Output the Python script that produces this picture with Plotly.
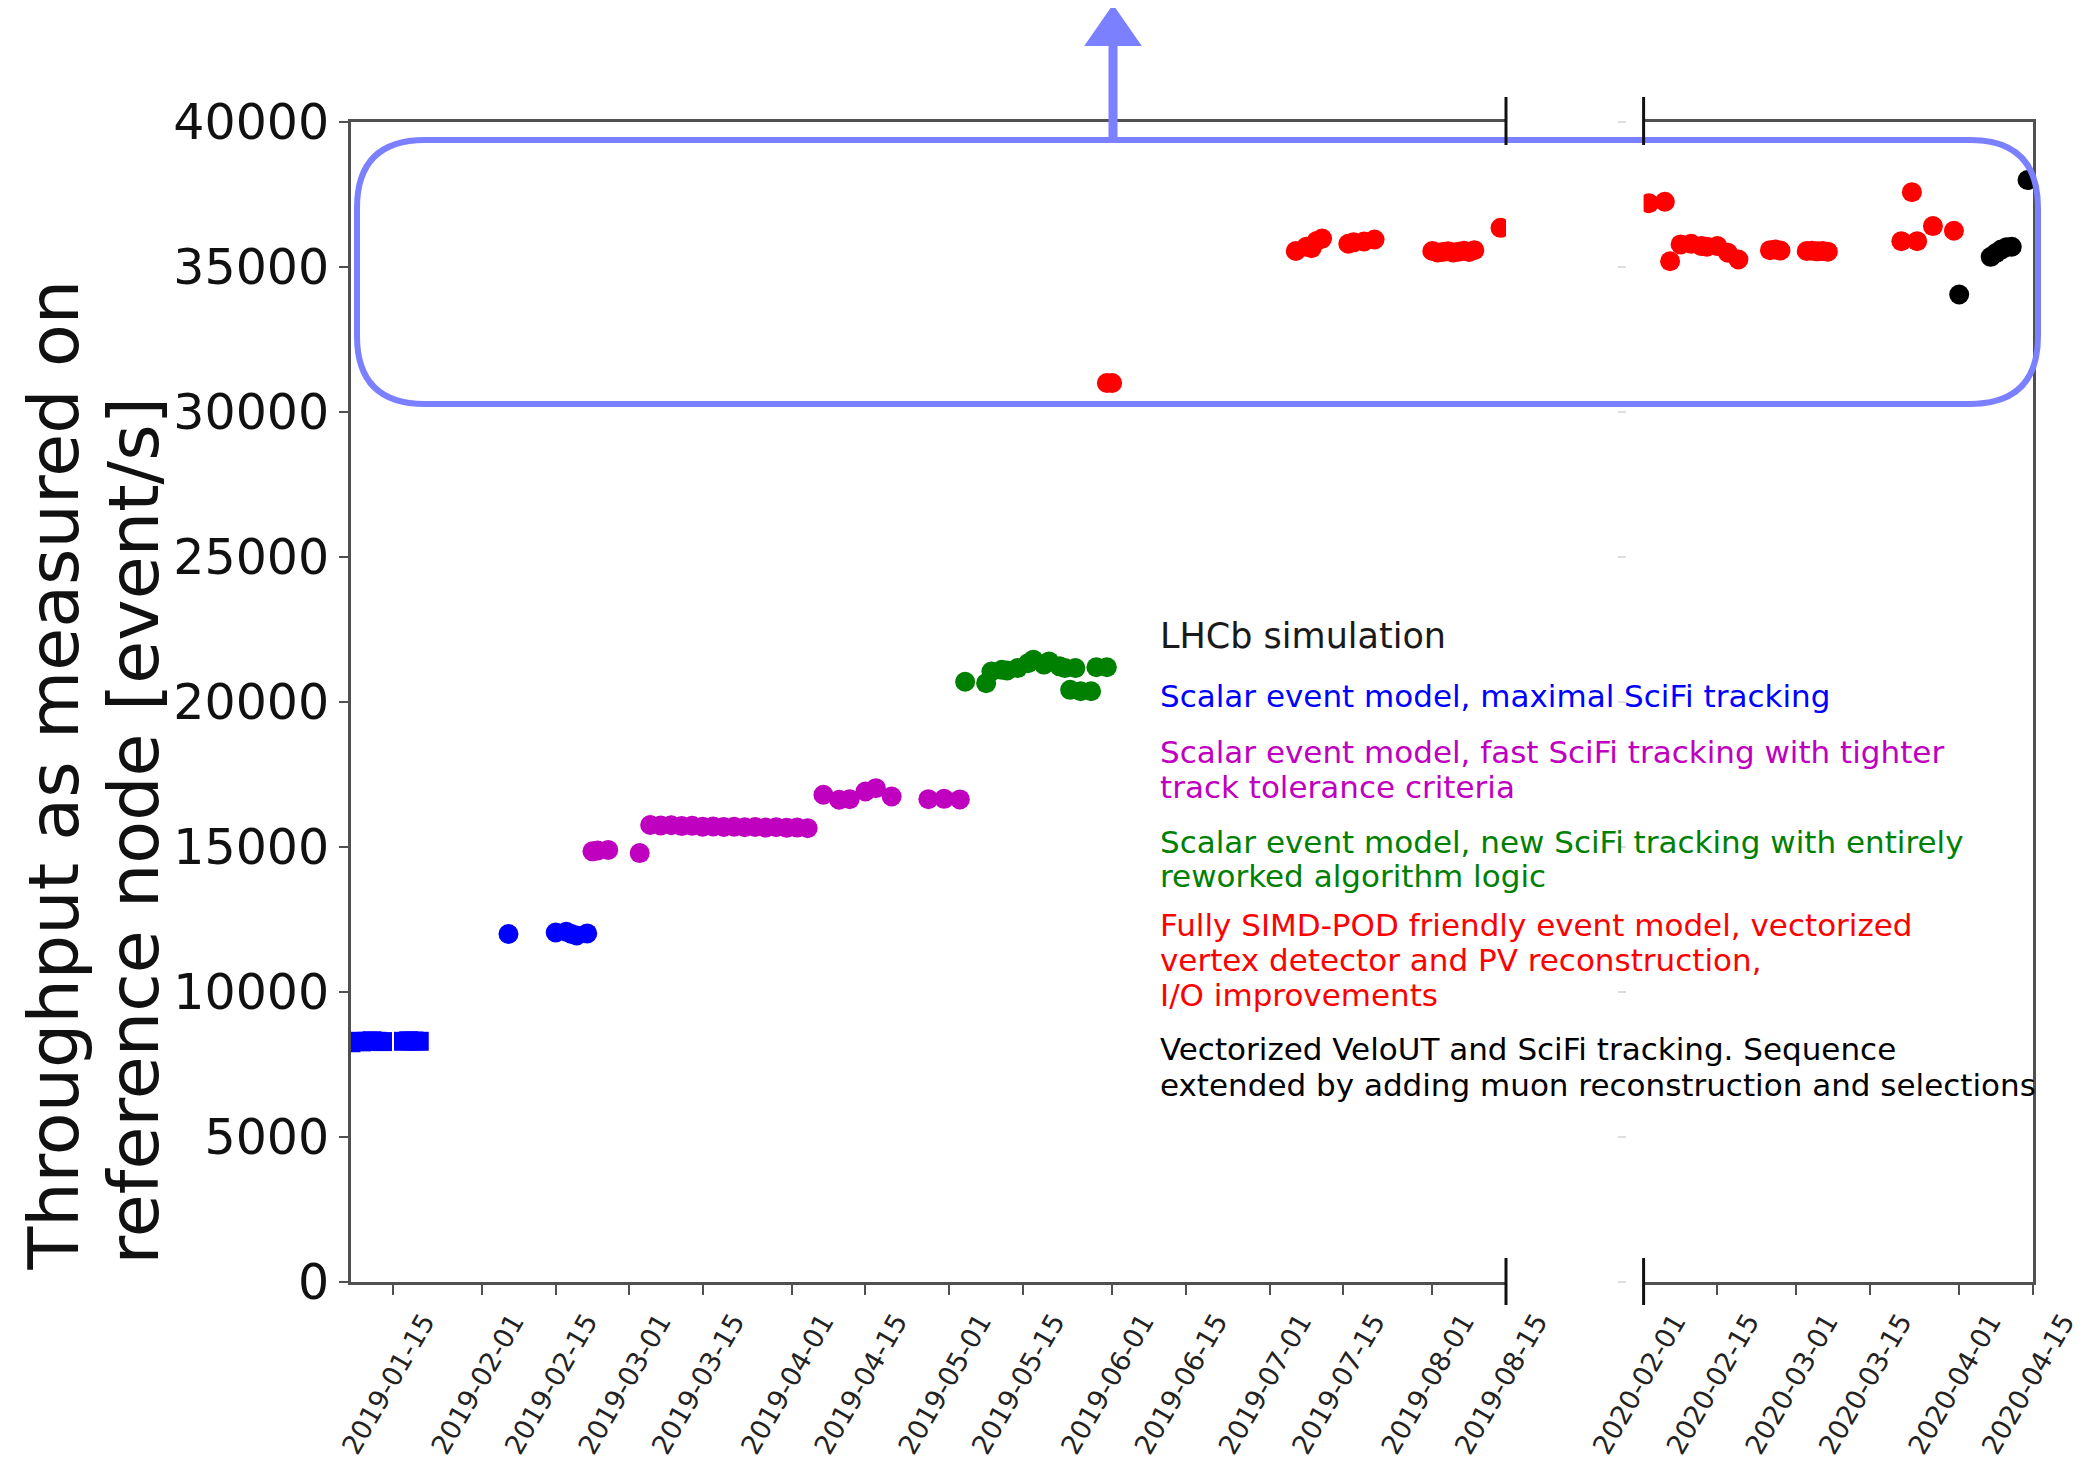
import plotly.graph_objects as go

# The page body has an 8px margin, so the figure is drawn 8px smaller and every
# pixel position below is given in window coordinates, then shifted by OFF.
OFF = 8
WIN_W, WIN_H = 2088, 1464
W, H = WIN_W - OFF, WIN_H - OFF
TOP_PX, BOT_PX = 122, 1282          # window y pixel of 40000 and of 0

# ---------------- data ----------------
blue_sq_dates = ['2019-01-07', '2019-01-08', '2019-01-09', '2019-01-10', '2019-01-11',
                 '2019-01-12', '2019-01-13', '2019-01-17', '2019-01-18', '2019-01-19',
                 '2019-01-20']
blue_sq_vals = [8250, 8300, 8280, 8300, 8320, 8300, 8290, 8300, 8320, 8310, 8300]

blue_dates = ['2019-02-06', '2019-02-15', '2019-02-17', '2019-02-18', '2019-02-19', '2019-02-21']
blue_vals = [12000, 12050, 12080, 12000, 11950, 12020]

magenta_dates = ['2019-02-22', '2019-02-23', '2019-02-25', '2019-03-03',
                 '2019-03-05', '2019-03-07', '2019-03-09', '2019-03-11', '2019-03-13',
                 '2019-03-15', '2019-03-17', '2019-03-19', '2019-03-21', '2019-03-23',
                 '2019-03-25', '2019-03-27', '2019-03-29', '2019-03-31', '2019-04-02',
                 '2019-04-04',
                 '2019-04-07', '2019-04-10', '2019-04-12', '2019-04-15', '2019-04-17',
                 '2019-04-20', '2019-04-27', '2019-04-30', '2019-05-03']
magenta_vals = [14850, 14880, 14900, 14790,
                15760, 15740, 15750, 15720, 15730, 15700, 15710, 15690, 15700, 15680,
                15690, 15670, 15680, 15660, 15670, 15650,
                16800, 16630, 16650, 16915, 17030, 16740, 16650, 16660, 16640]

green_dates = ['2019-05-04', '2019-05-08', '2019-05-09', '2019-05-11', '2019-05-12',
               '2019-05-14', '2019-05-16', '2019-05-17', '2019-05-19', '2019-05-20',
               '2019-05-22', '2019-05-23', '2019-05-25', '2019-05-24', '2019-05-26',
               '2019-05-28', '2019-05-29', '2019-05-31']
green_vals = [20700, 20650, 21050, 21110, 21090, 21170, 21340, 21460, 21290, 21400,
              21230, 21170, 21170, 20420, 20370, 20370, 21200, 21200]

red_dates_2019 = ['2019-05-31', '2019-06-01', '2019-07-06', '2019-07-08', '2019-07-09',
                  '2019-07-10', '2019-07-11', '2019-07-16', '2019-07-17', '2019-07-19',
                  '2019-07-21', '2019-08-01', '2019-08-02', '2019-08-03', '2019-08-04',
                  '2019-08-05', '2019-08-06', '2019-08-07', '2019-08-08', '2019-08-09',
                  '2019-08-14']
red_vals_2019 = [31000, 31000, 35550, 35700, 35650, 35900, 35980, 35800, 35850, 35880,
                 35950, 35550, 35500, 35520, 35540, 35500, 35530, 35560, 35520, 35580,
                 36350]

red_dates_2020 = ['2020-02-02', '2020-02-05', '2020-02-06', '2020-02-08', '2020-02-10',
                  '2020-02-12', '2020-02-13', '2020-02-15', '2020-02-17', '2020-02-19',
                  '2020-02-25', '2020-02-26', '2020-02-27', '2020-03-03', '2020-03-04',
                  '2020-03-05', '2020-03-06', '2020-03-07', '2020-03-21', '2020-03-23',
                  '2020-03-24', '2020-03-27', '2020-03-31']
red_vals_2020 = [37200, 37250, 35200, 35780, 35800, 35720, 35700, 35720, 35490, 35260,
                 35580, 35600, 35570, 35550, 35560, 35540, 35550, 35530, 35890, 37580,
                 35890, 36410, 36250]

black_dates = ['2020-04-01', '2020-04-07', '2020-04-08', '2020-04-09', '2020-04-10',
               '2020-04-11', '2020-04-14']
black_vals = [34050, 35350, 35480, 35600, 35680, 35700, 38000]

y_ticks = [0, 5000, 10000, 15000, 20000, 25000, 30000, 35000, 40000]
x1_ticks = ['2019-01-15', '2019-02-01', '2019-02-15', '2019-03-01', '2019-03-15',
            '2019-04-01', '2019-04-15', '2019-05-01', '2019-05-15', '2019-06-01',
            '2019-06-15', '2019-07-01', '2019-07-15', '2019-08-01', '2019-08-15']
x2_ticks = ['2020-02-01', '2020-02-15', '2020-03-01', '2020-03-15', '2020-04-01',
            '2020-04-15']

legend_lines = [
    ("LHCb simulation", "#1a1a1a", 35),
    ("Scalar event model, maximal SciFi tracking", "#0000ff", 31),
    ("Scalar event model, fast SciFi tracking with tighter", "#bf00bf", 31),
    ("track tolerance criteria", "#bf00bf", 31),
    ("Scalar event model, new SciFi tracking with entirely", "#008000", 31),
    ("reworked algorithm logic", "#008000", 31),
    ("Fully SIMD-POD friendly event model, vectorized", "#ff0000", 31),
    ("vertex detector and PV reconstruction,", "#ff0000", 31),
    ("I/O improvements", "#ff0000", 31),
    ("Vectorized VeloUT and SciFi tracking. Sequence", "#000000", 31),
    ("extended by adding muon reconstruction and selections", "#000000", 31),
]
legend_y_px = [636, 696, 752, 787, 842, 876, 925, 960, 995, 1049, 1085]

# ---------------- helpers ----------------
def px_x(x):
    return (x - OFF) / W

def px_y(y):
    return (BOT_PX - y) / (BOT_PX - TOP_PX)

FONT = "DejaVu Sans"
AX = "#505050"
HL = "rgb(122,128,255)"
MS = 20

fig = go.Figure()

def add(dates, vals, color, xa, ya, symbol='circle', size=MS):
    fig.add_trace(go.Scatter(x=dates, y=vals, mode='markers', xaxis=xa, yaxis=ya,
                             marker=dict(symbol=symbol, size=size, color=color,
                                         line=dict(width=0)),
                             showlegend=False, hoverinfo='x+y'))

add(blue_sq_dates, blue_sq_vals, '#0000ff', 'x', 'y', symbol='square', size=19)
add(blue_dates, blue_vals, '#0000ff', 'x', 'y')
add(magenta_dates, magenta_vals, '#bf00bf', 'x', 'y')
add(green_dates, green_vals, '#008000', 'x', 'y')
add(red_dates_2019, red_vals_2019, '#ff0000', 'x', 'y')
add(red_dates_2020, red_vals_2020, '#ff0000', 'x2', 'y2')
add(black_dates, black_vals, '#000000', 'x2', 'y2')

common_x = dict(type='date', showline=True, mirror=True, linecolor=AX, linewidth=3,
                ticks='outside', ticklen=10, tickwidth=2, tickcolor=AX,
                tickangle=-60, tickfont=dict(family=FONT, size=27, color='#222'),
                ticklabelshift=31, ticklabelstandoff=0, ticklabeloverflow='allow',
                showgrid=False, zeroline=False)

fig.update_layout(
    width=W, height=H,
    paper_bgcolor='white', plot_bgcolor='white',
    margin=dict(l=0, r=0, t=TOP_PX - OFF, b=WIN_H - BOT_PX, pad=0, autoexpand=False),
    showlegend=False,
    xaxis=dict(domain=[px_x(351), px_x(1506)], anchor='y',
               range=['2019-01-07', '2019-08-15 01:00'],
               tickvals=x1_ticks, ticktext=x1_ticks, **common_x),
    xaxis2=dict(domain=[px_x(1643.6), px_x(2033)], anchor='y2',
                range=['2020-01-31 23:00', '2020-04-15 01:00'],
                tickvals=x2_ticks, ticktext=x2_ticks, **common_x),
    yaxis=dict(domain=[0, 1], anchor='x', range=[0, 40000],
               tickvals=y_ticks, ticktext=[str(v) for v in y_ticks],
               showline=True, linecolor=AX, linewidth=3,
               ticks='outside', ticklen=9, tickwidth=2, tickcolor=AX,
               tickfont=dict(family=FONT, size=49, color='#111'),
               showgrid=False, zeroline=False),
    yaxis2=dict(domain=[0, 1], anchor='x2', side='right', range=[0, 40000],
                showline=True, linecolor=AX, linewidth=3, ticks='',
                showticklabels=False, showgrid=False, zeroline=False),
    yaxis3=dict(overlaying='y', anchor='free', position=px_x(1626), range=[0, 40000],
                tickvals=y_ticks, showticklabels=False, showline=False,
                ticks='outside', ticklen=8, tickwidth=2, tickcolor='#dddddd',
                showgrid=False, zeroline=False),
)

# invisible trace so the faint gap axis is drawn
fig.add_trace(go.Scatter(x=[None], y=[None], xaxis='x', yaxis='y3', showlegend=False,
                         hoverinfo='skip'))

annotations = []
for (txt, col, fs), ypx in zip(legend_lines, legend_y_px):
    annotations.append(dict(x=px_x(1158), y=px_y(ypx), xref='paper', yref='paper',
                            text=txt, showarrow=False, xanchor='left', yanchor='middle',
                            font=dict(family=FONT, size=fs, color=col)))

# y axis title (two rotated lines, start-aligned)
annotations.append(dict(x=px_x(53), y=px_y(1272), xref='paper', yref='paper',
                        text="Throughput as measured on", textangle=-90, showarrow=False,
                        xanchor='center', yanchor='bottom', borderpad=0,
                        font=dict(family=FONT, size=70, color='#111')))
annotations.append(dict(x=px_x(133), y=px_y(1266), xref='paper', yref='paper',
                        text="reference node [event/s]", textangle=-90, showarrow=False,
                        xanchor='center', yanchor='bottom', borderpad=0,
                        font=dict(family=FONT, size=70, color='#111')))
fig.update_layout(annotations=annotations)

# ---------------- shapes ----------------
def path(points_cmds):
    out = []
    for cmd, pts in points_cmds:
        coords = " ".join(f"{px_x(x):.5f},{px_y(y):.5f}" for x, y in pts)
        out.append(f"{cmd} {coords}")
    return " ".join(out) + " Z"

L, R, T, B, RAD = 357, 2038, 140, 404, 68
rect = path([
    ('M', [(L + RAD, T)]), ('L', [(R - RAD, T)]), ('Q', [(R, T), (R, T + RAD)]),
    ('L', [(R, B - RAD)]), ('Q', [(R, B), (R - RAD, B)]), ('L', [(L + RAD, B)]),
    ('Q', [(L, B), (L, B - RAD)]), ('L', [(L, T + RAD)]), ('Q', [(L, T), (L + RAD, T)]),
])
shapes = [dict(type='path', path=rect, xref='paper', yref='paper',
               line=dict(color=HL, width=6), layer='above')]

AXX = 1113
shapes.append(dict(type='line', xref='paper', yref='paper', x0=px_x(AXX), x1=px_x(AXX),
                   y0=px_y(142), y1=px_y(36), line=dict(color=HL, width=9)))
head = path([('M', [(AXX, 8)]), ('L', [(AXX - 25, 44)]), ('L', [(AXX + 25, 44)])])
shapes.append(dict(type='path', path=head, xref='paper', yref='paper',
                   fillcolor=HL, line=dict(color=HL, width=4)))

for bx in (1506, 1643.6):
    for (ya, yb) in ((97, 145), (1258, 1305)):
        shapes.append(dict(type='line', xref='paper', yref='paper',
                           x0=px_x(bx), x1=px_x(bx), y0=px_y(ya), y1=px_y(yb),
                           line=dict(color='#111', width=3)))

fig.update_layout(shapes=shapes)

fig.write_html("out.html")
